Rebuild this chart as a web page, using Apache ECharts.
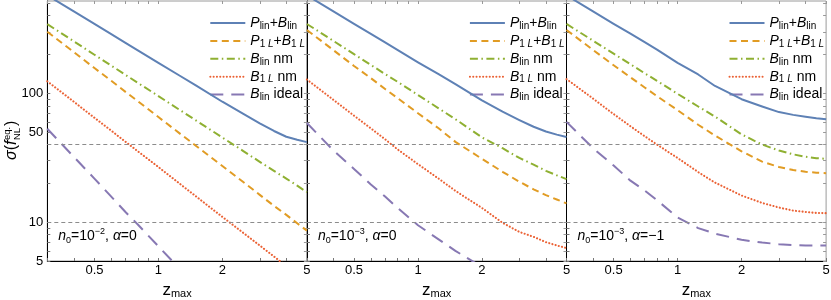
<!DOCTYPE html>
<html><head><meta charset="utf-8">
<script src="https://cdn.jsdelivr.net/npm/echarts@6/dist/echarts.min.js"></script>
<style>html,body{margin:0;padding:0;background:#fff}#chart{width:831px;height:300px}</style>
</head><body><div id="chart"></div>
<script>
// ---------------- data ----------------
const zmax = [0.3,0.4,0.5,0.6,0.7,0.8,1,1.25,1.5,2,2.5,3,3.5,4,4.5,5];

// Panel 1: n0=10^-2, alpha=0
const p1PlinBlin  = [575,432,345,288,246,215,172,138,115,86,69.5,58.5,51,46,43.6,41.8];
const p1P1LB1L    = [300,208.5,157,125,102.6,86.8,65.4,49.3,39.2,27.3,20.6,16.3,13.4,11.4,9.8,8.6];
const p1BlinNm    = [344,253,199,164,139,120.6,95.2,74.9,61.7,45.4,35.8,29.4,25.0,21.8,19.2,17.1];
const p1B1LNm     = [124,86,64.6,51.3,42.1,35.5,26.8,20.1,15.9,11.0,8.3,6.6,5.42,4.57,3.98,3.4];
const p1BlinIdeal = [53.1,32.1,21.8,15.8,12.0,9.6,6.5,4.4,3.2,1.9,1.3,0.95,0.72,0.58,0.47,0.39];

// Panel 2: n0=10^-3, alpha=0
const p2PlinBlin  = [575,432,346,289,248,217,174,141,118,88,72,62,55,50.5,47.8,45.8];
const p2P1LB1L    = [310,216,163,131,108,92,70,53.5,42,31,24.6,20.6,18.0,16.2,15.0,14.0];
const p2BlinNm    = [345,255,201,166,141,123,97,76.5,63,45.5,37.5,31.5,28,25,23.1,21.6];
const p2B1LNm     = [128,89,67,53.5,44,36.8,28.2,21.8,17.5,12.9,9.9,8.4,7.7,7.0,6.6,6.3];
const p2BlinIdeal = [58.8,36,25.9,19.6,15.8,12.96,9.47,7.36,5.99,4.5,3.7,3.2,2.9,2.7,2.6,2.5];

// Panel 3: n0=10^-3, alpha=-1
const p3PlinBlin  = [575,432,346,290,249,218,172,140,114,90,79,71.5,68,65.7,64,62.8];
const p3P1LB1L    = [310,217,165,133,111,95,74,57,47,35.5,29.5,26.8,25.4,24.6,24.2,24.0];
const p3BlinNm    = [345,256,203,168,143,125,99,79,66,48,40,36,33.6,32.2,31.4,31.0];
const p3B1LNm     = [129,91,69,55.5,46.5,40,31.5,24.5,20.3,16.1,14.1,13.0,12.3,12.0,11.8,11.75];
const p3BlinIdeal = [60,37.5,27.5,21,17.6,14.8,10.9,9.0,8.15,7.3,6.95,6.75,6.65,6.6,6.6,6.6];

const thresholds = [40, 10];
const xTickLabels = [0.5, 1, 2, 5];
const yTickLabels = [5, 10, 50, 100];
const xTickMarks = [0.3,0.4,0.5,0.6,0.7,0.8,0.9,1,2,3,4,5];
const yTickMarks = [5,6,7,8,9,10,20,30,40,50,60,70,80,90,100,200,300,400,500];
const seriesNames = ['Plin+Blin','P1L+B1L','Blin nm','B1L nm','Blin ideal'];
const panelN0Exp = ['−2','−3','−3'];
const panelAlpha = ['0','0','−1'];

// ---------------- styles ----------------
const FONT = '"Liberation Sans", Arial, Helvetica, sans-serif';
const colors = ['#5E81B5','#E19C24','#8FB032','#EB6235','#8778B3'];
const dashes = ['solid',[7,4.5],[8,3.5,1.5,3.5],[0.1,3.2],[13,8]];
const caps = ['butt','butt','butt','round','butt'];
const widths = [2,2,2,2.1,2];
const legendLabel = {
  'Plin+Blin':  '{i|P}{s|lin}+{i|B}{s|lin}',
  'P1L+B1L':    '{i|P}{s|1 }{si|L}+{i|B}{s|1 }{si|L}',
  'Blin nm':    '{i|B}{s|lin} nm',
  'B1L nm':     '{i|B}{s|1 }{si|L} nm',
  'Blin ideal': '{i|B}{s|lin} ideal'
};
const legendRich = {
  i:{fontStyle:'italic', fontSize:14, lineHeight:16, fontFamily:FONT, color:'#000'},
  s:{fontSize:10, lineHeight:10, verticalAlign:'bottom', fontFamily:FONT, color:'#000'},
  si:{fontSize:10, lineHeight:10, verticalAlign:'bottom', fontStyle:'italic', fontFamily:FONT, color:'#000'}
};

function tickText(v, list){
  for (const t of list) if (Math.abs(v - t) < 1e-6 * t) return String(t);
  const p = Math.pow(10, v);
  for (const t of list) if (Math.abs(p - t) < 1e-6 * t) return String(t);
  return '';
}

const panelData = [
  [p1PlinBlin,p1P1LB1L,p1BlinNm,p1B1LNm,p1BlinIdeal],
  [p2PlinBlin,p2P1LB1L,p2BlinNm,p2B1LNm,p2BlinIdeal],
  [p3PlinBlin,p3P1LB1L,p3BlinNm,p3B1LNm,p3BlinIdeal]
];

const gridLeft0 = 47.3, gridW = 259.6, gridTop = 1, gridH = 260;
const grids=[], xAxes=[], yAxes=[], series=[], legends=[], graphics=[];

for (let i = 0; i < 3; i++) {
  const left = gridLeft0 + i * gridW;
  grids.push({left:left, top:gridTop, width:gridW, height:gridH, show:true,
    borderColor:'#9a9a9a', borderWidth:1, backgroundColor:'transparent',
    containLabel:false, outerBoundsMode:'none'});
  xAxes.push({type:'log', logBase:10, gridIndex:i, position:'bottom', min:0.3, max:5,
    axisLine:{show:true, lineStyle:{color:'#000', width:1}},
    axisTick:{show:true, inside:true, length:3, customValues:xTickMarks, lineStyle:{color:'#777'}},
    axisLabel:{show:true, customValues:xTickLabels, formatter:v=>tickText(v,xTickLabels),
      color:'#000', fontSize:13, fontFamily:FONT, margin:3, hideOverlap:false, showMinLabel:true, showMaxLabel:true},
    splitLine:{show:false}, minorTick:{show:false},
    name:'{z|z}{m|max}', nameLocation:'middle', nameGap:20, nameMoveOverlap:false,
    nameTextStyle:{color:'#000', fontSize:16, fontFamily:FONT,
      rich:{z:{fontSize:17, lineHeight:18, fontFamily:FONT, color:'#000'},
            m:{fontSize:11, lineHeight:11, verticalAlign:'bottom', fontFamily:FONT, color:'#000'}}}
  });
  xAxes.push({type:'log', logBase:10, gridIndex:i, position:'top', min:0.3, max:5,
    axisLine:{show:false},
    axisTick:{show:true, inside:true, length:3, customValues:xTickMarks, lineStyle:{color:'#999'}},
    axisLabel:{show:false}, splitLine:{show:false}});
  yAxes.push({type:'log', logBase:10, gridIndex:i, position:'left', min:5, max:520,
    axisLine:{show:true, lineStyle:{color:'#000', width:1}},
    axisTick:{show:true, inside:true, length:3, customValues:yTickMarks, lineStyle:{color:'#777'}},
    axisLabel:{show:i===0, customValues:yTickLabels, formatter:v=>tickText(v,yTickLabels),
      color:'#000', fontSize:13, fontFamily:FONT, margin:4, hideOverlap:false},
    splitLine:{show:false}});
  yAxes.push({type:'log', logBase:10, gridIndex:i, position:'right', min:5, max:520,
    axisLine:{show:false},
    axisTick:{show:true, inside:true, length:3, customValues:yTickMarks, lineStyle:{color:'#999'}},
    axisLabel:{show:false}, splitLine:{show:false}});

  for (let k = 0; k < 5; k++) {
    const s = {
      type:'line', name:seriesNames[k], xAxisIndex:2*i, yAxisIndex:2*i,
      data: zmax.map((z, j) => [z, panelData[i][k][j]]),
      symbol:'none', showSymbol:false, clip:true, smooth:false, silent:true,
      lineStyle:{color:colors[k], width:widths[k], type:dashes[k], cap:caps[k], join:'round'},
      itemStyle:{color:colors[k]}, z: 3 + (4-k)
    };
    if (k === 0) {
      s.markLine = {silent:true, symbol:'none', animation:false, label:{show:false},
        lineStyle:{color:'#8c8c8c', type:[4,3], width:1},
        data: thresholds.map(v => ({yAxis:v}))};
    }
    series.push(s);
  }

  legends.push({show:true, orient:'vertical', left:left+162, top:15,
    itemWidth:35, itemHeight:14, itemGap:1.9, padding:0, selectedMode:false,
    data:seriesNames, itemStyle:{opacity:0, borderWidth:0},
    textStyle:{fontSize:14, fontFamily:FONT, color:'#000', lineHeight:16, rich:legendRich},
    formatter:n => legendLabel[n]});

  graphics.push({type:'text', x:left+11, y:236, silent:true,
    style:{text:'{i|n}{s|0}=10{u|' + panelN0Exp[i] + '}, {i|α}=' + panelAlpha[i],
      fontSize:14, lineHeight:18, fontFamily:FONT, fill:'#000', align:'left', verticalAlign:'middle',
      rich:{i:{fontStyle:'italic', fontSize:14, lineHeight:18, fontFamily:FONT},
            s:{fontSize:9, lineHeight:9, verticalAlign:'bottom', fontFamily:FONT},
            u:{fontSize:9, lineHeight:9, verticalAlign:'top', fontFamily:FONT}}}});
}

// y axis title  σ(f_NL^eq.)
graphics.push({type:'group', x:12, y:160, rotation:Math.PI/2, silent:true, children:[
  {type:'text', x:0, y:0, style:{text:'{i|σ}({i|f}', fontSize:16, fontFamily:FONT, fill:'#000',
     align:'left', verticalAlign:'middle', rich:{i:{fontStyle:'italic', fontSize:16, fontFamily:FONT}}}},
  {type:'text', x:20, y:-5, style:{text:'eq.', fontSize:9.5, fontFamily:FONT, fill:'#000', align:'left', verticalAlign:'middle'}},
  {type:'text', x:20, y:5, style:{text:'NL', fontSize:9.5, fontFamily:FONT, fill:'#000', align:'left', verticalAlign:'middle'}},
  {type:'text', x:34, y:0, style:{text:')', fontSize:16, fontFamily:FONT, fill:'#000', align:'left', verticalAlign:'middle'}}
]});

const chart = echarts.init(document.getElementById('chart'), null, {renderer:'canvas', width:831, height:300});
chart.setOption({
  animation:false,
  backgroundColor:'#fff',
  grid:grids, xAxis:xAxes, yAxis:yAxes, series:series, legend:legends,
  graphic:graphics,
  tooltip:{show:false}
});
</script></body></html>
